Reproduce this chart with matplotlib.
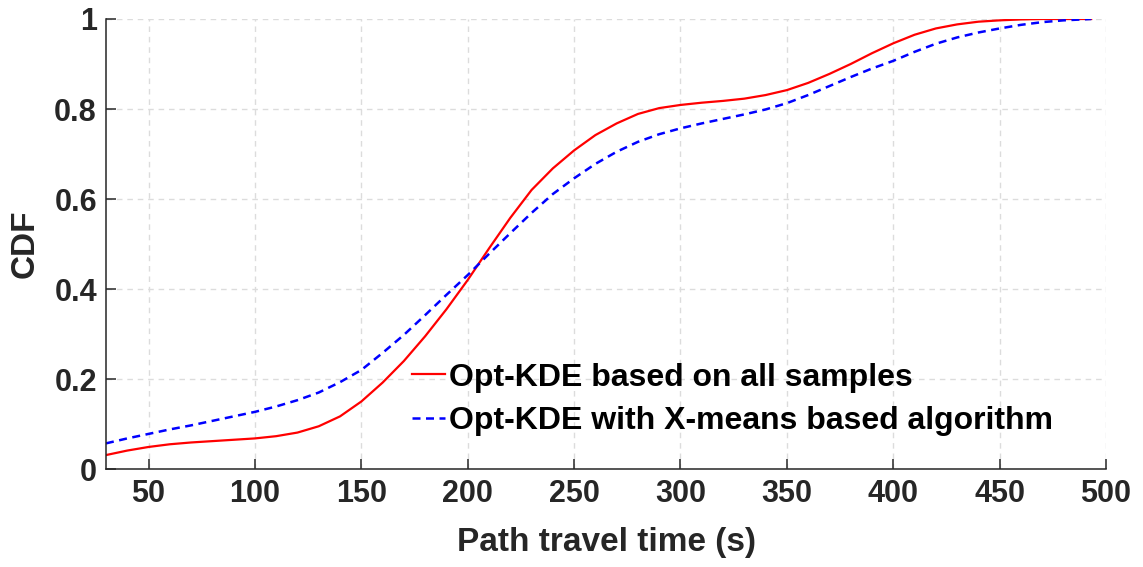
import matplotlib
matplotlib.use('Agg')
import matplotlib.pyplot as plt

plt.rcParams['font.family'] = ['Liberation Sans', 'DejaVu Sans']
plt.rcParams['font.weight'] = 'bold'

# CDF of path travel time (s), Opt-KDE on all samples
x_all = [30, 40, 50, 60, 70, 80, 90, 100, 110, 120, 130, 140, 150, 160, 170,
         180, 190, 200, 210, 220, 230, 240, 250, 260, 270, 280, 290, 300, 310,
         320, 330, 340, 350, 360, 370, 380, 390, 400, 410, 420, 430, 440, 450,
         460, 470, 480, 493]
cdf_all = [0.031, 0.041, 0.049, 0.055, 0.059, 0.062, 0.065, 0.068, 0.073, 0.081,
           0.095, 0.117, 0.150, 0.192, 0.240, 0.295, 0.355, 0.420, 0.490, 0.558,
           0.620, 0.668, 0.708, 0.742, 0.768, 0.789, 0.802, 0.809, 0.814, 0.818,
           0.823, 0.831, 0.842, 0.858, 0.878, 0.900, 0.924, 0.946, 0.965, 0.979,
           0.988, 0.994, 0.997, 0.999, 1.000, 1.000, 1.000]

# Opt-KDE with X-means
x_xm = [30, 40, 50, 60, 70, 80, 90, 100, 110, 120, 130, 140, 150, 160, 170,
        180, 190, 200, 210, 220, 230, 240, 250, 260, 270, 280, 290, 300, 310,
        320, 330, 340, 350, 360, 370, 380, 390, 400, 410, 420, 430, 440, 450,
        460, 470, 480, 493]
cdf_xm = [0.057, 0.068, 0.078, 0.088, 0.097, 0.107, 0.117, 0.127, 0.139, 0.153,
          0.170, 0.193, 0.220, 0.258, 0.298, 0.342, 0.387, 0.431, 0.478, 0.524,
          0.569, 0.611, 0.646, 0.678, 0.705, 0.727, 0.744, 0.757, 0.768, 0.778,
          0.788, 0.799, 0.813, 0.831, 0.851, 0.871, 0.890, 0.907, 0.927, 0.945,
          0.959, 0.970, 0.979, 0.987, 0.993, 0.997, 1.000]

xticks = [50, 100, 150, 200, 250, 300, 350, 400, 450, 500]
yticks = [0, 0.2, 0.4, 0.6, 0.8, 1]
ytick_labels = ['0', '0.2', '0.4', '0.6', '0.8', '1']

fig = plt.figure(figsize=(11.43, 5.67), dpi=100)
ax = fig.add_axes([0.0927, 0.1728, 0.875, 0.7937])

l1, = ax.plot(x_all, cdf_all, color='red', lw=1.6)
l2, = ax.plot(x_xm, cdf_xm, color='blue', lw=1.8, dashes=(3.2, 2.2))

ax.set_xlim(30, 500)
ax.set_ylim(0, 1)
ax.set_xticks(xticks)
ax.set_yticks(yticks)
ax.set_yticklabels(ytick_labels)

ax.grid(True, color='#dcdcdc', linestyle=(0, (4, 3.5)), linewidth=1.0)
ax.set_axisbelow(True)
for side in ['top', 'right']:
    ax.spines[side].set_visible(False)
for side in ['left', 'bottom']:
    ax.spines[side].set_color('#262626')
    ax.spines[side].set_linewidth(1.1)

ax.tick_params(direction='in', length=7.5, width=1.1, color='#262626',
               labelsize=22, labelcolor='#262626')
ax.tick_params(axis='x', pad=7)
ax.tick_params(axis='y', pad=6.5)
for lab in ax.get_xticklabels() + ax.get_yticklabels():
    lab.set_fontweight('bold')

ax.set_xlabel('Path travel time (s)', fontsize=24, fontweight='bold', color='#262626', labelpad=13)
ax.set_ylabel('CDF', fontsize=24, fontweight='bold', color='#262626', labelpad=10)

ax.legend([l1, l2], ['Opt-KDE based on all samples', 'Opt-KDE with X-means based algorithm'],
          loc='center left', bbox_to_anchor=(0.306, 0.155), frameon=False,
          prop={'size': 23, 'weight': 'bold'}, handlelength=1.03, handletextpad=0.12,
          labelspacing=0.42, borderaxespad=0, borderpad=0)

fig.savefig('out.png', dpi=100)
